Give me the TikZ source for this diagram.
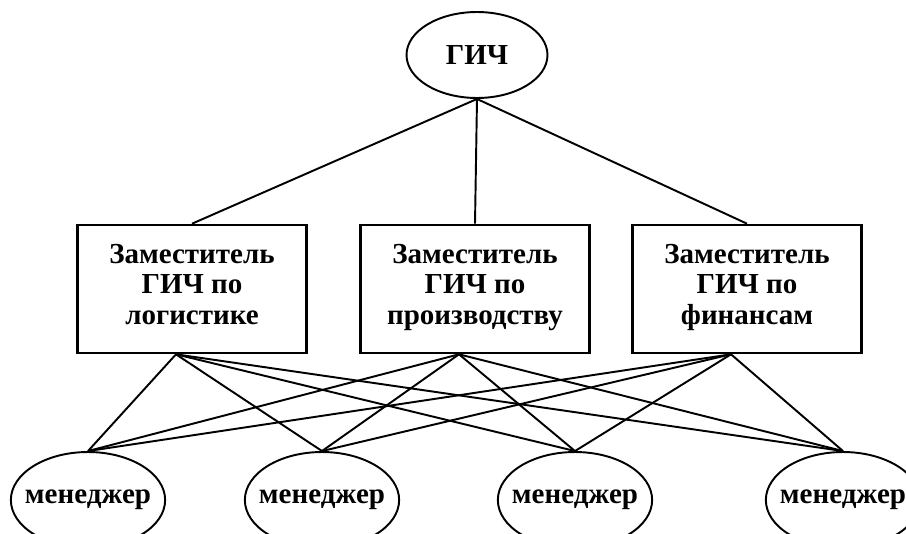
\documentclass[tikz,border=0pt]{standalone}
\usepackage{fontspec}
\setmainfont{Liberation Serif}
\usetikzlibrary{shapes.geometric}
\begin{document}
\begin{tikzpicture}[x=0.02cm,y=-0.02cm,
	chief/.style={draw,ellipse,line width=1.1pt,minimum width=2.82cm,minimum height=1.72cm,inner sep=0pt,font=\fontsize{16.5}{17.6}\selectfont\bfseries},
	deputy/.style={draw,rectangle,line width=1.5pt,minimum width=4.58cm,minimum height=2.56cm,inner sep=0pt,align=center,font=\fontsize{16.5}{17.6}\selectfont\bfseries},
	manager/.style={draw,ellipse,line width=1.1pt,minimum width=3.02cm,minimum height=1.92cm,inner xsep=-0.17cm,inner ysep=0pt,font=\fontsize{16.5}{17.6}\selectfont\bfseries},
	link/.style={line width=1.1pt}]
	\clip (0,0) rectangle (906,534);
	\fill[white] (0,0) rectangle (906,534);
	\node[chief] (gich) at (477,55) {ГИЧ};
	\node[deputy] (d1) at (192,289) {Заместитель\\ГИЧ по\\логистике\strut};
	\node[deputy] (d2) at (475,289) {Заместитель\\ГИЧ по\\производству\strut};
	\node[deputy] (d3) at (747,289) {Заместитель\\ГИЧ по\\финансам\strut};
	\node[manager] (m1) at (88,500) {менеджер};
	\node[manager] (m2) at (322,500) {менеджер};
	\node[manager] (m3) at (575,500) {менеджер};
	\node[manager] (m4) at (843,500) {менеджер};
	% from the chief down
	\foreach \d in {1,2,3}
		\draw[link] (gich.south) -- (d\d.north);
	% every deputy to every manager
	\foreach \d in {1,2,3}{
		\coordinate (d\d b) at ([xshift=-0.32cm]d\d.south);
		\foreach \m in {1,...,4}
			\draw[link] (d\d b) -- (m\m.north);
	}
\end{tikzpicture}
\end{document}
